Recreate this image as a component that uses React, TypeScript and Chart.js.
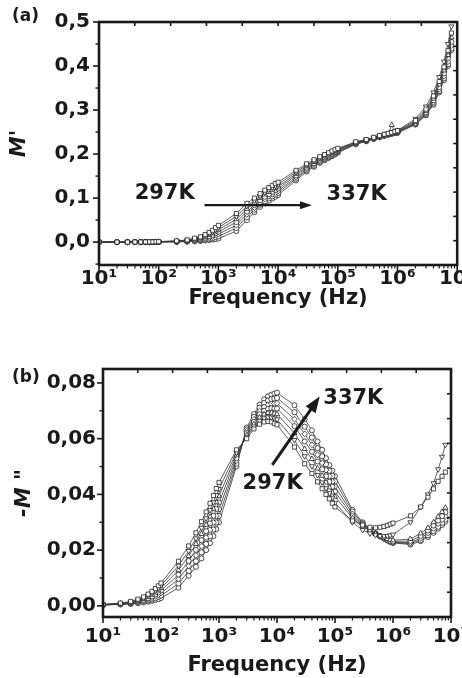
import React, { useEffect, useRef } from 'react';
import { Chart, registerables } from 'chart.js';

Chart.register(...registerables);

// ---------------- data ----------------
const FREQ = [
  10, 20, 30, 40, 50, 60, 70, 80, 90,
  100, 200, 300, 400, 500, 600, 700, 800, 900,
  1e3, 2e3, 3e3, 4e3, 5e3, 6e3, 7e3, 8e3, 9e3,
  1e4, 2e4, 3e4, 4e4, 5e4, 6e4, 7e4, 8e4, 9e4,
  1e5, 2e5, 3e5, 4e5, 5e5, 6e5, 7e5, 8e5, 9e5,
  1e6, 2e6, 3e6, 4e6, 5e6, 6e6, 7e6, 8e6,
];

const TEMPS = ['297K', '304K', '310K', '317K', '324K', '330K', '337K'];

// M' (panel a)
const MP_297 = [0, 0, 0, 0.0002, 0.0003, 0.0004, 0.0005, 0.0006, 0.0008,
  0.0010, 0.0030, 0.0050, 0.0090, 0.0120, 0.0170, 0.0220, 0.0270, 0.0330,
  0.0380, 0.0650, 0.0880, 0.1000, 0.1100, 0.1180, 0.1240, 0.1290, 0.1330,
  0.1360, 0.1630, 0.1780, 0.1870, 0.1940, 0.1990, 0.2030, 0.2070, 0.2100,
  0.2130, 0.2280, 0.2330, 0.2380, 0.2420, 0.2450, 0.2470, 0.2490, 0.2510,
  0.2530, 0.2760, 0.3020, 0.3320, 0.3650, 0.3980, 0.4350, 0.4750];
const MP_304 = [0, 0, 0, 0.0002, 0.0002, 0.0003, 0.0004, 0.0005, 0.0006,
  0.0008, 0.0025, 0.0042, 0.0077, 0.0103, 0.0146, 0.0190, 0.0234, 0.0286,
  0.0330, 0.0585, 0.0820, 0.0945, 0.1050, 0.1130, 0.1190, 0.1240, 0.1280,
  0.1310, 0.1590, 0.1750, 0.1845, 0.1917, 0.1968, 0.2010, 0.2050, 0.2082,
  0.2113, 0.2270, 0.2323, 0.2373, 0.2413, 0.2443, 0.2465, 0.2485, 0.2505,
  0.2540, 0.2800, 0.3080, 0.3400, 0.3750, 0.4100, 0.4500, 0.4900];
const MP_310 = [0, 0, 0, 0.0001, 0.0002, 0.0002, 0.0003, 0.0004, 0.0005,
  0.0006, 0.0020, 0.0035, 0.0064, 0.0087, 0.0123, 0.0160, 0.0198, 0.0242,
  0.0280, 0.0520, 0.0755, 0.0890, 0.1000, 0.1080, 0.1140, 0.1190, 0.1230,
  0.1260, 0.1550, 0.1720, 0.1820, 0.1893, 0.1947, 0.1990, 0.2030, 0.2063,
  0.2097, 0.2260, 0.2317, 0.2367, 0.2407, 0.2437, 0.2460, 0.2660, 0.2500,
  0.2520, 0.2730, 0.2980, 0.3260, 0.3580, 0.3900, 0.4250, 0.4650];
const MP_317 = [0, 0, 0, 0.0001, 0.0001, 0.0002, 0.0002, 0.0003, 0.0004,
  0.0005, 0.0016, 0.0028, 0.0052, 0.0071, 0.0100, 0.0131, 0.0162, 0.0199,
  0.0230, 0.0455, 0.0690, 0.0840, 0.0950, 0.1030, 0.1090, 0.1140, 0.1180,
  0.1215, 0.1515, 0.1690, 0.1790, 0.1870, 0.1925, 0.1970, 0.2010, 0.2045,
  0.2080, 0.2250, 0.2310, 0.2360, 0.2400, 0.2430, 0.2455, 0.2475, 0.2495,
  0.2510, 0.2710, 0.2950, 0.3220, 0.3520, 0.3830, 0.4170, 0.4550];
const MP_324 = [0, 0, 0, 0.0001, 0.0001, 0.0001, 0.0002, 0.0002, 0.0003,
  0.0004, 0.0012, 0.0022, 0.0040, 0.0055, 0.0078, 0.0102, 0.0127, 0.0156,
  0.0180, 0.0385, 0.0630, 0.0785, 0.0900, 0.0980, 0.1040, 0.1090, 0.1130,
  0.1165, 0.1475, 0.1660, 0.1765, 0.1847, 0.1903, 0.1950, 0.1990, 0.2027,
  0.2063, 0.2240, 0.2303, 0.2353, 0.2393, 0.2423, 0.2450, 0.2470, 0.2490,
  0.2500, 0.2690, 0.2920, 0.3180, 0.3470, 0.3770, 0.4100, 0.4470];
const MP_330 = [0, 0, 0, 0, 0.0001, 0.0001, 0.0001, 0.0002, 0.0002,
  0.0003, 0.0009, 0.0016, 0.0028, 0.0040, 0.0056, 0.0074, 0.0092, 0.0113,
  0.0130, 0.0320, 0.0565, 0.0735, 0.0850, 0.0930, 0.0990, 0.1040, 0.1080,
  0.1120, 0.1440, 0.1630, 0.1735, 0.1823, 0.1882, 0.1930, 0.1970, 0.2008,
  0.2047, 0.2230, 0.2297, 0.2347, 0.2387, 0.2417, 0.2445, 0.2465, 0.2485,
  0.2490, 0.2680, 0.2900, 0.3150, 0.3430, 0.3720, 0.4040, 0.4400];
const MP_337 = [0, 0, 0, 0, 0, 0.0001, 0.0001, 0.0001, 0.0002,
  0.0002, 0.0006, 0.0010, 0.0015, 0.0025, 0.0035, 0.0045, 0.0058, 0.0070,
  0.0080, 0.0250, 0.0500, 0.0680, 0.0800, 0.0880, 0.0940, 0.0990, 0.1030,
  0.1070, 0.1400, 0.1600, 0.1710, 0.1800, 0.1860, 0.1910, 0.1950, 0.1990,
  0.2030, 0.2220, 0.2290, 0.2340, 0.2380, 0.2410, 0.2440, 0.2460, 0.2480,
  0.2480, 0.2670, 0.2880, 0.3120, 0.3400, 0.3680, 0.4000, 0.4360];

// -M'' (panel b)
const MPP_297 = [0.0005, 0.0010, 0.0016, 0.0024, 0.0032, 0.0042, 0.0052, 0.0062, 0.0072,
  0.0082, 0.0160, 0.0215, 0.0262, 0.0302, 0.0337, 0.0368, 0.0396, 0.0421,
  0.0443, 0.0560, 0.0600, 0.0635, 0.0652, 0.0660, 0.0662, 0.0660, 0.0655,
  0.0650, 0.0570, 0.0510, 0.0475, 0.0445, 0.0420, 0.0400, 0.0384, 0.0368,
  0.0355, 0.0305, 0.0290, 0.0282, 0.0280, 0.0282, 0.0285, 0.0289, 0.0293,
  0.0297, 0.0323, 0.0355, 0.0390, 0.0420, 0.0447, 0.0465, 0.0480];
const MPP_304 = [0.0005, 0.0009, 0.0014, 0.0021, 0.0028, 0.0037, 0.0046, 0.0055, 0.0064,
  0.0073, 0.0144, 0.0197, 0.0242, 0.0280, 0.0314, 0.0344, 0.0372, 0.0397,
  0.0419, 0.0550, 0.0607, 0.0644, 0.0664, 0.0673, 0.0677, 0.0676, 0.0673,
  0.0669, 0.0595, 0.0537, 0.0501, 0.0469, 0.0443, 0.0422, 0.0404, 0.0388,
  0.0370, 0.0300, 0.0272, 0.0260, 0.0254, 0.0251, 0.0250, 0.0251, 0.0253,
  0.0256, 0.0300, 0.0355, 0.0400, 0.0440, 0.0490, 0.0535, 0.0578];
const MPP_310 = [0.0004, 0.0008, 0.0012, 0.0018, 0.0024, 0.0032, 0.0040, 0.0048, 0.0056,
  0.0064, 0.0128, 0.0179, 0.0222, 0.0258, 0.0291, 0.0320, 0.0348, 0.0372,
  0.0395, 0.0540, 0.0614, 0.0652, 0.0676, 0.0687, 0.0692, 0.0693, 0.0690,
  0.0688, 0.0620, 0.0563, 0.0527, 0.0493, 0.0467, 0.0443, 0.0425, 0.0407,
  0.0392, 0.0315, 0.0285, 0.0270, 0.0258, 0.0250, 0.0244, 0.0240, 0.0237,
  0.0235, 0.0240, 0.0260, 0.0280, 0.0300, 0.0320, 0.0337, 0.0352];
const MPP_317 = [0.0004, 0.0007, 0.0011, 0.0016, 0.0021, 0.0027, 0.0034, 0.0041, 0.0048,
  0.0055, 0.0112, 0.0161, 0.0201, 0.0236, 0.0268, 0.0296, 0.0323, 0.0348,
  0.0371, 0.0530, 0.0620, 0.0660, 0.0688, 0.0700, 0.0707, 0.0709, 0.0708,
  0.0708, 0.0645, 0.0590, 0.0553, 0.0518, 0.0490, 0.0465, 0.0445, 0.0427,
  0.0410, 0.0322, 0.0288, 0.0271, 0.0258, 0.0249, 0.0242, 0.0237, 0.0233,
  0.0231, 0.0233, 0.0251, 0.0270, 0.0288, 0.0306, 0.0322, 0.0336];
const MPP_324 = [0.0004, 0.0006, 0.0009, 0.0013, 0.0018, 0.0023, 0.0029, 0.0034, 0.0040,
  0.0046, 0.0096, 0.0143, 0.0181, 0.0214, 0.0245, 0.0273, 0.0299, 0.0323,
  0.0347, 0.0520, 0.0627, 0.0669, 0.0699, 0.0714, 0.0722, 0.0725, 0.0726,
  0.0727, 0.0670, 0.0617, 0.0578, 0.0542, 0.0513, 0.0487, 0.0465, 0.0446,
  0.0428, 0.0330, 0.0292, 0.0272, 0.0259, 0.0249, 0.0241, 0.0235, 0.0231,
  0.0228, 0.0227, 0.0243, 0.0261, 0.0278, 0.0295, 0.0309, 0.0322];
const MPP_330 = [0.0003, 0.0006, 0.0008, 0.0011, 0.0015, 0.0019, 0.0023, 0.0027, 0.0032,
  0.0037, 0.0080, 0.0125, 0.0160, 0.0192, 0.0222, 0.0249, 0.0274, 0.0299,
  0.0323, 0.0510, 0.0633, 0.0678, 0.0711, 0.0728, 0.0737, 0.0742, 0.0744,
  0.0746, 0.0695, 0.0643, 0.0604, 0.0566, 0.0537, 0.0508, 0.0485, 0.0466,
  0.0447, 0.0338, 0.0296, 0.0274, 0.0259, 0.0250, 0.0242, 0.0235, 0.0230,
  0.0227, 0.0223, 0.0237, 0.0253, 0.0269, 0.0284, 0.0298, 0.0310];
const MPP_337 = [0.0003, 0.0005, 0.0007, 0.0009, 0.0012, 0.0015, 0.0018, 0.0021, 0.0024,
  0.0028, 0.0065, 0.0108, 0.0140, 0.0170, 0.0200, 0.0225, 0.0250, 0.0275,
  0.0300, 0.0500, 0.0640, 0.0688, 0.0722, 0.0741, 0.0752, 0.0758, 0.0762,
  0.0765, 0.0720, 0.0670, 0.0630, 0.0590, 0.0560, 0.0530, 0.0505, 0.0485,
  0.0465, 0.0345, 0.0300, 0.0275, 0.0260, 0.0250, 0.0242, 0.0235, 0.0230,
  0.0226, 0.0220, 0.0232, 0.0247, 0.0262, 0.0277, 0.0290, 0.0302];

const SERIES_A = [MP_297, MP_304, MP_310, MP_317, MP_324, MP_330, MP_337];
const SERIES_B = [MPP_297, MPP_304, MPP_310, MPP_317, MPP_324, MPP_330, MPP_337];

// axis ticks
const X_DECADES = [10, 100, 1e3, 1e4, 1e5, 1e6, 1e7];
const X_MINOR_MULT = [2, 3, 4, 5, 6, 7, 8, 9];
const Y_MAJOR_A = [0, 0.1, 0.2, 0.3, 0.4, 0.5];
const Y_MINOR_A = [-0.05, 0.05, 0.15, 0.25, 0.35, 0.45];
const Y_MAJOR_B = [0, 0.02, 0.04, 0.06, 0.08];
const Y_MINOR_B = [0.01, 0.03, 0.05, 0.07];

// annotations (data space)
const ARROW_A = { x0: 585, y0: 0.084, x1: 36900, y1: 0.084 };
const LABELS_A = [
  { text: '297K', x: 126, y: 0.111 },
  { text: '337K', x: 2.07e5, y: 0.109 },
];
const ARROW_B = { x0: 8300, y0: 0.0506, x1: 54600, y1: 0.0751 };
const LABELS_B = [
  { text: '337K', x: 2.07e5, y: 0.0743 },
  { text: '297K', x: 8400, y: 0.0439 },
];

// ---------------- style ----------------
const FONT = 'DejaVu Sans';
const INK = '#1a1a1a';
const SUP: Record<number, string> = { 1: '\u00B9', 2: '\u00B2', 3: '\u00B3', 4: '\u2074', 5: '\u2075', 6: '\u2076', 7: '\u2077' };
const MARKERS = [
  { style: 'rect', rot: 0, r: 2.9 },
  { style: 'triangle', rot: 180, r: 3.0 },
  { style: 'triangle', rot: 0, r: 3.0 },
  { style: 'circle', rot: 0, r: 2.5 },
  { style: 'rectRot', rot: 0, r: 2.9 },
  { style: 'circle', rot: 0, r: 2.6 },
  { style: 'circle', rot: 0, r: 2.5 },
];

const framePlugin = {
  id: 'frame',
  afterDraw(chart: any, _args: any, o: any) {
    const { ctx, chartArea: a } = chart;
    const xs = chart.scales.x;
    const ys = chart.scales.y;
    ctx.save();
    ctx.strokeStyle = INK;
    ctx.fillStyle = INK;
    const seg = (x1: number, y1: number, x2: number, y2: number, w: number) => {
      ctx.lineWidth = w;
      ctx.beginPath();
      ctx.moveTo(x1, y1);
      ctx.lineTo(x2, y2);
      ctx.stroke();
    };
    // bottom axis: outward ticks
    X_DECADES.forEach((d, i) => {
      const px = xs.getPixelForValue(d);
      seg(px, a.bottom, px, a.bottom + 6, 1.6);
      if (i < X_DECADES.length - 1) {
        X_MINOR_MULT.forEach((m) => {
          const q = xs.getPixelForValue(d * m);
          seg(q, a.bottom, q, a.bottom + 3.5, 1.2);
        });
      }
    });
    // left axis: outward ticks
    o.yMajor.forEach((v: number) => {
      const py = ys.getPixelForValue(v);
      seg(a.left - 6, py, a.left, py, 1.6);
    });
    o.yMinor.forEach((v: number) => {
      const py = ys.getPixelForValue(v);
      seg(a.left - 3.5, py, a.left, py, 1.4);
    });
    // top and right axes: 10 equal divisions, inward ticks
    for (let i = 1; i < 10; i++) {
      const px = a.left + ((a.right - a.left) * i) / 10;
      seg(px, a.top, px, a.top + 4, 1.6);
      const py = a.top + ((a.bottom - a.top) * i) / 10;
      seg(a.right - 4, py, a.right, py, 1.6);
    }
    ctx.lineWidth = 2.6;
    ctx.strokeRect(a.left, a.top, a.right - a.left, a.bottom - a.top);

    // arrow
    const ar = o.arrow;
    const p0x = xs.getPixelForValue(ar.x0);
    const p0y = ys.getPixelForValue(ar.y0);
    const p1x = xs.getPixelForValue(ar.x1);
    const p1y = ys.getPixelForValue(ar.y1);
    const ang = Math.atan2(p1y - p0y, p1x - p0x);
    const c = Math.cos(ang);
    const s = Math.sin(ang);
    const bx = p1x - o.headLen * c;
    const by = p1y - o.headLen * s;
    seg(p0x, p0y, bx + c, by + s, o.arrowWidth);
    ctx.beginPath();
    ctx.moveTo(p1x, p1y);
    ctx.lineTo(bx - (o.headWidth / 2) * s, by + (o.headWidth / 2) * c);
    ctx.lineTo(bx + (o.headWidth / 2) * s, by - (o.headWidth / 2) * c);
    ctx.closePath();
    ctx.fill();

    // labels
    ctx.font = `bold 21px "${FONT}"`;
    ctx.textAlign = 'center';
    ctx.textBaseline = 'middle';
    o.labels.forEach((l: any) => {
      ctx.fillText(l.text, xs.getPixelForValue(l.x), ys.getPixelForValue(l.y));
    });

    // panel tag
    ctx.font = `bold 17px "${FONT}"`;
    ctx.textAlign = 'left';
    ctx.fillText(o.tag, o.tagX, o.tagY);
    ctx.restore();
  },
};

function makeConfig(p: any) {
  const datasets = p.series.map((vals: number[], i: number) => ({
    label: TEMPS[i],
    data: FREQ.map((f, k) => ({ x: f, y: vals[k] })),
    borderColor: '#3a3a3a',
    borderWidth: 0.8,
    pointStyle: MARKERS[i].style,
    rotation: MARKERS[i].rot,
    pointRadius: MARKERS[i].r,
    pointBackgroundColor: '#ffffff',
    pointBorderColor: '#222222',
    pointBorderWidth: 0.8,
    fill: false,
    tension: 0,
  }));
  const tickFont = { family: FONT, size: 20, weight: 'bold' as const };
  return {
    type: 'line' as const,
    data: { datasets },
    plugins: [framePlugin],
    options: {
      responsive: false,
      animation: false as const,
      devicePixelRatio: 1,
      layout: { padding: { left: 0, right: p.padRight, top: p.padTop, bottom: 0 } },
      plugins: {
        legend: { display: false },
        tooltip: { enabled: false },
        title: { display: false },
        frame: {
          yMajor: p.yMajor,
          yMinor: p.yMinor,
          arrow: p.arrow,
          arrowWidth: p.arrowWidth,
          headLen: p.headLen,
          headWidth: p.headWidth,
          labels: p.labels,
          tag: p.tag,
          tagX: p.tagX,
          tagY: p.tagY,
        },
      },
      scales: {
        x: {
          type: 'logarithmic',
          position: 'bottom',
          min: 10,
          max: 1e7,
          grid: { display: false, drawTicks: false },
          border: { display: false },
          ticks: {
            autoSkip: false,
            maxRotation: 0,
            minRotation: 0,
            padding: p.xTickPad,
            color: INK,
            font: tickFont,
            callback: (v: any) => {
              const e = Math.log10(Number(v));
              const r = Math.round(e);
              return Math.abs(e - r) < 1e-6 ? '10' + SUP[r] : '';
            },
          },
          title: {
            display: true,
            text: 'Frequency (Hz)',
            color: INK,
            font: { family: FONT, size: 21, weight: 'bold' },
            padding: { top: 0, bottom: p.xTitlePad },
          },
          afterFit: (sc: any) => {
            sc.height = p.xHeight;
            sc.paddingLeft = 0;
            sc.paddingRight = 0;
          },
        },
        y: {
          type: 'linear',
          position: 'left',
          min: p.yMin,
          max: p.yMax,
          grid: { display: false, drawTicks: false },
          border: { display: false },
          ticks: {
            stepSize: p.yStep,
            includeBounds: false,
            padding: p.yTickPad,
            color: INK,
            font: tickFont,
            callback: (v: any) => Number(v).toFixed(p.yDec).replace('.', ','),
          },
          title: {
            display: true,
            text: p.yTitle,
            color: INK,
            font: { family: FONT, size: 21, weight: 'bold', style: 'italic' },
            padding: { top: p.yTitlePad, bottom: 0 },
          },
          afterFit: (sc: any) => {
            sc.width = p.yWidth;
            sc.paddingTop = 0;
            sc.paddingBottom = 0;
          },
        },
      },
    },
  };
}

export default function App() {
  const refA = useRef<HTMLCanvasElement>(null);
  const refB = useRef<HTMLCanvasElement>(null);

  useEffect(() => {
    const chartA = new Chart(refA.current as HTMLCanvasElement, makeConfig({
      series: SERIES_A,
      padTop: 22, padRight: 3,
      xHeight: 55, yWidth: 99,
      xTickPad: 2, xTitlePad: 9,
      yTickPad: 9, yTitlePad: 7,
      yMin: -0.052, yMax: 0.5, yStep: 0.1, yDec: 1,
      yTitle: "M'",
      yMajor: Y_MAJOR_A, yMinor: Y_MINOR_A,
      arrow: ARROW_A, arrowWidth: 2.2, headLen: 12, headWidth: 8,
      labels: LABELS_A,
      tag: '(a)', tagX: 12, tagY: 17,
    }) as any);
    const chartB = new Chart(refB.current as HTMLCanvasElement, makeConfig({
      series: SERIES_B,
      padTop: 49, padRight: 11,
      xHeight: 61, yWidth: 103,
      xTickPad: 8, xTitlePad: 0,
      yTickPad: 7, yTitlePad: 12,
      yMin: -0.004, yMax: 0.085, yStep: 0.02, yDec: 2,
      yTitle: '-M "',
      yMajor: Y_MAJOR_B, yMinor: Y_MINOR_B,
      arrow: ARROW_B, arrowWidth: 3, headLen: 16, headWidth: 12,
      labels: LABELS_B,
      tag: '(b)', tagX: 12, tagY: 58,
    }) as any);
    return () => {
      chartA.destroy();
      chartB.destroy();
    };
  }, []);

  return (
    <div style={{ position: 'absolute', left: 0, top: 0, width: 462, height: 678, background: '#ffffff' }}>
      <canvas ref={refA} width={462} height={320} style={{ display: 'block', width: 462, height: 320 }} />
      <canvas ref={refB} width={462} height={358} style={{ display: 'block', width: 462, height: 358 }} />
    </div>
  );
}
